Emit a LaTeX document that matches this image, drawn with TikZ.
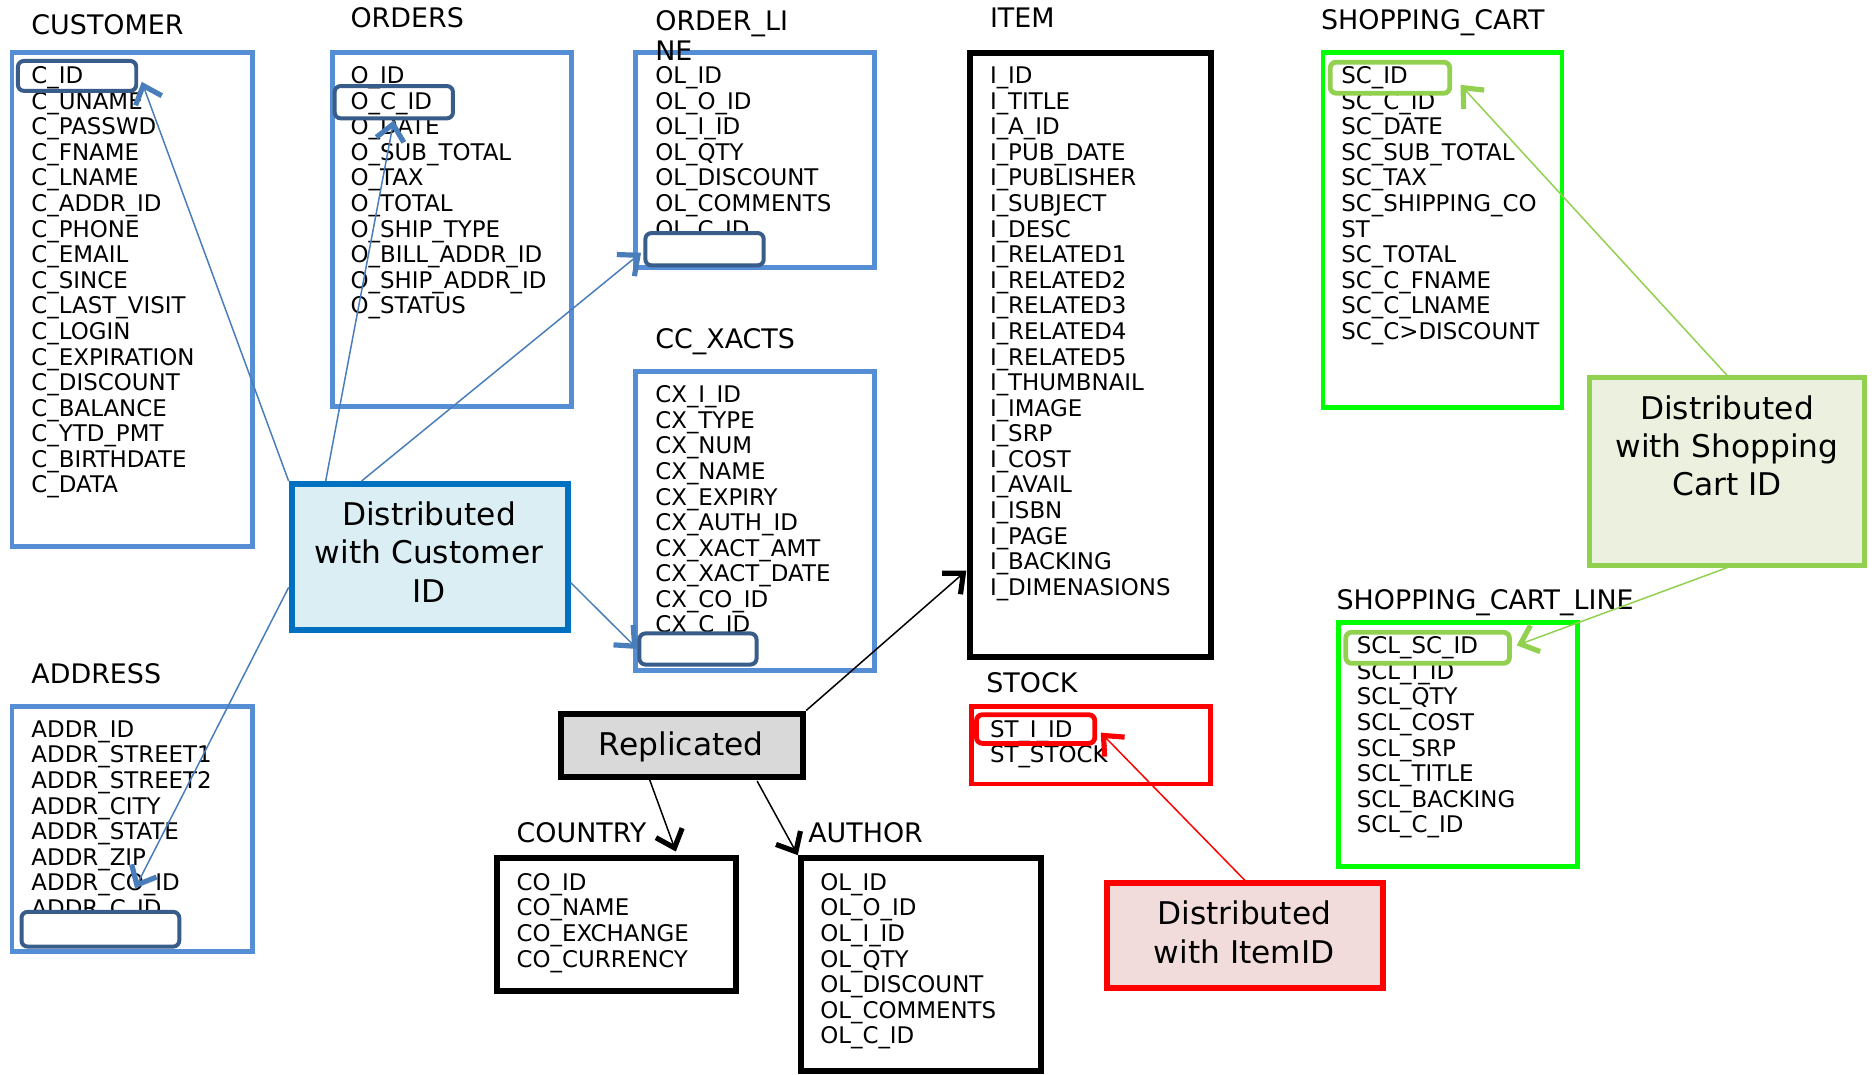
\documentclass[tikz,border=0pt]{standalone}
\usepackage{fontspec}
\setmainfont{DejaVu Sans}
\usetikzlibrary{arrows.meta,fit,calc}
\definecolor{tblue}{HTML}{558ED5}
\definecolor{hblue}{HTML}{385D8A}
\definecolor{cblue}{HTML}{4A7EBB}
\definecolor{dblue}{HTML}{0070C0}
\definecolor{lblue}{HTML}{DBEEF4}
\definecolor{lgreen}{HTML}{92D050}
\definecolor{bgreen}{HTML}{00FF00}
\definecolor{pgreen}{HTML}{EBF1DE}
\definecolor{pred}{HTML}{F2DCDB}
\definecolor{rgray}{HTML}{D9D9D9}
\newcommand\tblfields[4]{\foreach \t [count=\i from 0] in {#4} {\node[fld] (#1-\i) at (#2,{#3+\i*21.4}) {\t};}}
\begin{document}
\begin{tikzpicture}[x=0.6pt,y=-0.6pt,
  fld/.style={font=\fontsize{11.5}{13}\selectfont, inner sep=0, anchor=base west},
  ttl/.style={font=\fontsize{13.5}{15}\selectfont, inner sep=0, anchor=base west},
  big/.style={font=\fontsize{15.7}{19.2}\selectfont, inner sep=0, align=center, anchor=north},
  tblbox/.style={draw, line width=2.4pt, inner sep=0},
  hlb/.style={draw=hblue, line width=2pt, rounded corners=3pt, inner sep=0},
  hlg/.style={draw=lgreen, line width=2.4pt, rounded corners=3pt, inner sep=0},
  hlr/.style={draw=red, line width=2.4pt, rounded corners=3pt, inner sep=0},
  conn/.style={line width=0.75pt, -{Straight Barb[length=8pt,width=14pt,line width=2.6pt]}},
]
\useasboundingbox[fill=white] (0,0) rectangle (1568,899);

% table boxes
\node[tblbox, draw=tblue, fit={(10,44)(211,457)}] (custbox) {};
\node[tblbox, draw=tblue, fit={(278,44)(478,340)}] (ordbox) {};
\node[tblbox, draw=tblue, fit={(532,44)(732,224)}] (olbox) {};
\node[tblbox, draw=tblue, fit={(532,311)(732,561)}] (ccbox) {};
\node[tblbox, draw=black, line width=3pt, fit={(812,44)(1013,550)}] (itembox) {};
\node[tblbox, draw=bgreen, fit={(1107,44)(1307,341)}] (scbox) {};
\node[tblbox, draw=bgreen, fit={(1120,521)(1320,725)}] (sclbox) {};
\node[tblbox, draw=red, fit={(813,591)(1013,656)}] (stbox) {};
\node[tblbox, draw=tblue, fit={(10,591)(211,796)}] (addrbox) {};
\node[tblbox, draw=black, line width=3pt, fit={(416,718)(616,829)}] (cobox) {};
\node[tblbox, draw=black, line width=3pt, fit={(670,718)(871,896)}] (aubox) {};

% titles
\node[ttl] (custT) at (26,29) {CUSTOMER};
\node[ttl] (ordT) at (293,23) {ORDERS};
\node[ttl, anchor=north west, align=left] (olT) at (548,8.8) {ORDER\_LI\\NE};
\node[ttl] (itemT) at (828,23) {ITEM};
\node[ttl] (scT) at (1105,25) {SHOPPING\_CART};
\node[ttl] (ccT) at (548,292) {CC\_XACTS};
\node[ttl] (sclT) at (1118,510) {SHOPPING\_CART\_LINE};
\node[ttl] (stT) at (825,579) {STOCK};
\node[ttl] (addrT) at (26,572) {ADDRESS};
\node[ttl] (coT) at (432,705) {COUNTRY};
\node[ttl] (auT) at (676,705) {AUTHOR};

% fields
\tblfields{cust}{26}{70}{C\_ID,C\_UNAME,C\_PASSWD,C\_FNAME,C\_LNAME,C\_ADDR\_ID,C\_PHONE,C\_EMAIL,C\_SINCE,C\_LAST\_VISIT,C\_LOGIN,C\_EXPIRATION,C\_DISCOUNT,C\_BALANCE,C\_YTD\_PMT,C\_BIRTHDATE,C\_DATA}
\tblfields{ord}{293}{70}{O\_ID,O\_C\_ID,O\_DATE,O\_SUB\_TOTAL,O\_TAX,O\_TOTAL,O\_SHIP\_TYPE,O\_BILL\_ADDR\_ID,O\_SHIP\_ADDR\_ID,O\_STATUS}
\tblfields{ol}{548}{70}{OL\_ID,OL\_O\_ID,OL\_I\_ID,OL\_QTY,OL\_DISCOUNT,OL\_COMMENTS,OL\_C\_ID}
\tblfields{cc}{548}{337}{CX\_I\_ID,CX\_TYPE,CX\_NUM,CX\_NAME,CX\_EXPIRY,CX\_AUTH\_ID,CX\_XACT\_AMT,CX\_XACT\_DATE,CX\_CO\_ID,CX\_C\_ID}
\tblfields{item}{828}{70}{I\_ID,I\_TITLE,I\_A\_ID,I\_PUB\_DATE,I\_PUBLISHER,I\_SUBJECT,I\_DESC,I\_RELATED1,I\_RELATED2,I\_RELATED3,I\_RELATED4,I\_RELATED5,I\_THUMBNAIL,I\_IMAGE,I\_SRP,I\_COST,I\_AVAIL,I\_ISBN,I\_PAGE,I\_BACKING,I\_DIMENASIONS}
\tblfields{sc}{1122}{70}{SC\_ID,SC\_C\_ID,SC\_DATE,SC\_SUB\_TOTAL,SC\_TAX,SC\_SHIPPING\_CO,ST,SC\_TOTAL,SC\_C\_FNAME,SC\_C\_LNAME,SC\_C>DISCOUNT}
\tblfields{scl}{1135}{547}{SCL\_SC\_ID,SCL\_I\_ID,SCL\_QTY,SCL\_COST,SCL\_SRP,SCL\_TITLE,SCL\_BACKING,SCL\_C\_ID}
\tblfields{st}{828}{617}{ST\_I\_ID,ST\_STOCK}
\tblfields{addr}{26}{617}{ADDR\_ID,ADDR\_STREET1,ADDR\_STREET2,ADDR\_CITY,ADDR\_STATE,ADDR\_ZIP,ADDR\_CO\_ID,ADDR\_C\_ID}
\tblfields{co}{432}{745}{CO\_ID,CO\_NAME,CO\_EXCHANGE,CO\_CURRENCY}
\tblfields{au}{686}{745}{OL\_ID,OL\_O\_ID,OL\_I\_ID,OL\_QTY,OL\_DISCOUNT,OL\_COMMENTS,OL\_C\_ID}

% key highlights
\node[hlb, fit={(15,51)(114,76)}] (cidhl) {};
\node[hlb, fit={(280,72)(379,99)}] (ochl) {};
\node[hlb, fill=white, fit={(540,195)(639,222)}] (olchl) {};
\node[hlb, fill=white, fit={(535,530)(633,556)}] (cxchl) {};
\node[hlb, fill=white, fit={(18,763)(150,792)}] (adchl) {};
\node[hlg, fit={(1113,52)(1213,78)}] (scidhl) {};
\node[hlg, fit={(1126,529)(1263,555)}] (sclhl) {};
\node[hlr, fit={(817,598)(916,622)}] (stidhl) {};

% distribution boxes
\node[draw=dblue, fill=lblue, line width=3pt, inner sep=0, fit={(244,405)(475,527)}] (dcust) {};
\node[draw=lgreen, fill=pgreen, line width=2.4pt, inner sep=0, fit={(1330,316)(1560,473)}] (dsc) {};
\node[draw=red, fill=pred, line width=3pt, inner sep=0, fit={(926,739)(1157,827)}] (ditem) {};
\node[draw=black, fill=rgray, line width=3pt, inner sep=0, fit={(469,597)(672,650)}] (repl) {};
\node[big] (dcustT) at (359,419.6) {Distributed\\with Customer\\ID};
\node[big] (dscT) at (1445,330.6) {Distributed\\with Shopping\\Cart ID};
\node[big] (ditemT) at (1041,753.6) {Distributed\\with ItemID};
\node[big] (replT) at (570,611.6) {Replicated};

% connectors
\coordinate (tC) at ($(cidhl.east)+(3,5)$);
\coordinate (tOL) at ($(olchl.west)+(-2,3)$);
\coordinate (tAD) at ($(adchl.north)+(29,-18)$);
\coordinate (tST) at ($(stidhl.east)+(3,3)$);
\coordinate (tSC) at ($(scidhl.east)+(7,6)$);
\coordinate (tSCL) at ($(sclhl.east)+(4,-2)$);
\coordinate (tIT) at ($(itembox.south west)+(-1,-75)$);
\coordinate (tCO) at ($(cobox.north west)+(152,-3)$);
\draw[conn, cblue] (dcust.north west) -- (tC);
\draw[conn, cblue] ($(dcust.north west)+(31,0)$) -- (ochl.south);
\draw[conn, cblue] ($(dcust.north west)+(61,0)$) -- (tOL);
\draw[conn, cblue] ($(dcust.north east)+(0,85)$) -- (cxchl.west);
\draw[conn, cblue] ($(dcust.north west)+(0,89)$) -- (tAD);
\draw[conn, red] (ditem.north) -- (tST);
\draw[conn, lgreen] (dsc.north) -- (tSC);
\draw[conn, lgreen] (dsc.south) -- (tSCL);
\draw[conn, black] (repl.north east) -- (tIT);
\draw[conn, black] ($(repl.south west)+(76,-3)$) -- (tCO);
\draw[conn, black] ($(repl.south west)+(167,1)$) -- (aubox.north west);
\end{tikzpicture}
\end{document}
